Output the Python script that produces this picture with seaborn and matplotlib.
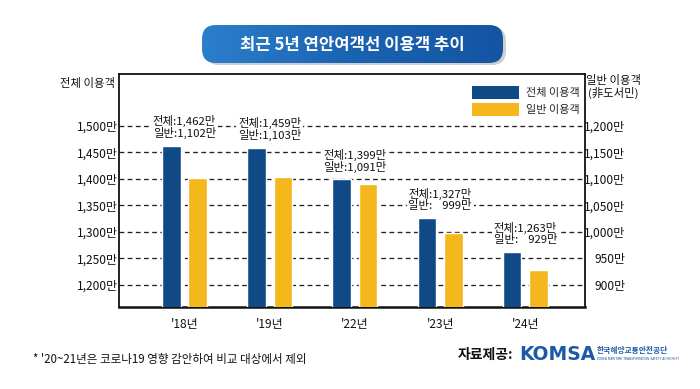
import numpy as np
import pandas as pd
import matplotlib
matplotlib.use('Agg')
import matplotlib.pyplot as plt
import seaborn as sns
from matplotlib.patches import FancyBboxPatch, Patch
import matplotlib.colors as mcolors

# ---------------- data ----------------
years = ["'18년", "'19년", "'22년", "'23년", "'24년"]
total = [1462, 1459, 1399, 1327, 1263]      # 전체 이용객 (만명), left axis
general = [1102, 1103, 1091, 999, 929]      # 일반 이용객 (만명), right axis
series_names = ['전체 이용객', '일반 이용객']
left_ticks = [1200, 1250, 1300, 1350, 1400, 1450, 1500]
right_ticks = [900, 950, 1000, 1050, 1100, 1150, 1200]

title = '최근 5년 연안여객선 이용객 추이'
left_title = '전체 이용객'
right_title = '일반 이용객\n(非도서민)'
footnote = "* '20~21년은 코로나19 영향 감안하여 비교 대상에서 제외"
source_label = '자료제공:'
logo_text = 'KOMSA'
org_name = '한국해양교통안전공단'
org_eng = 'KOREA MARITIME TRANSPORTATION SAFETY AUTHORITY'

BLUE = '#0f4a87'
YELLOW = '#f5b81c'
INK = '#111111'

sns.set_theme(style='white')
plt.rcParams['font.family'] = ['Noto Sans CJK KR', 'DejaVu Sans']

W, H = 700, 389
fig = plt.figure(figsize=(W / 100, H / 100), dpi=100)
fig.patch.set_facecolor('white')

# main axes (pixel-based placement)
x0, x1, ytop, ybot = 119.3, 585.0, 74.0, 307.0
ax = fig.add_axes([x0 / W, 1 - ybot / H, (x1 - x0) / W, (ybot - ytop) / H])
ax2 = ax.twinx()

df = pd.DataFrame({
    'year': years * 2,
    'series': [series_names[0]] * len(years) + [series_names[1]] * len(years),
    'value': total + general,
})
palette = {series_names[0]: BLUE, series_names[1]: YELLOW}

common = dict(x='year', y='value', hue='series', hue_order=series_names,
              palette=palette, width=0.622, gap=0.3, dodge=True,
              saturation=1, legend=False, errorbar=None)
sns.barplot(data=df[df.series == series_names[0]], ax=ax, zorder=3, **common)
sns.barplot(data=df[df.series == series_names[1]], ax=ax2, zorder=3, **common)

ax.set_xlim(-0.765, 4.70)
ax.set_ylim(1158.5, 1598)
ax2.set_ylim(858.5, 1298)

ax.set_yticks(left_ticks)
ax.set_yticklabels([f'{v:,}만' for v in left_ticks])
ax2.set_yticks(right_ticks)
ax2.set_yticklabels([f'{v:,}만' for v in right_ticks])
for lab in ax2.get_yticklabels():
    lab.set_ha('right')

ax.set_xlabel('')
ax.set_ylabel('')
ax2.set_xlabel('')
ax2.set_ylabel('')
ax.set_xticks(range(len(years)))
ax.set_xticklabels(years)

ax.tick_params(axis='y', length=0, pad=1, labelsize=8.6, colors=INK)
ax2.tick_params(axis='y', length=0, pad=29, labelsize=8.6, colors=INK)
ax.tick_params(axis='x', length=0, pad=8, labelsize=8.6, colors=INK)

ax.set_axisbelow(True)
ax.yaxis.grid(True, linestyle=(0, (3.6, 2.6)), color='#222222', linewidth=0.95)
ax.xaxis.grid(False)
for sp in ax.spines.values():
    sp.set_visible(True)
    sp.set_color(INK)
    sp.set_linewidth(1.3)
ax.spines['bottom'].set_linewidth(1.8)
for sp in ax2.spines.values():
    sp.set_visible(False)

# value annotations
for i, (t, g) in enumerate(zip(total, general)):
    gtxt = f'{g:,}' if g >= 1000 else '    ' + f'{g:,}'
    ax.annotate(f'전체:{t:,}만\n일반:{gtxt}만', xy=(i, t), xytext=(0, 5),
                textcoords='offset points', ha='center', va='bottom',
                fontsize=8.2, linespacing=1.0, multialignment='right',
                color=INK, zorder=6,
                bbox=dict(boxstyle='square,pad=0.15', fc='white', ec='none'))

# legend
handles = [Patch(facecolor=BLUE, edgecolor='none'), Patch(facecolor=YELLOW, edgecolor='none')]
leg = ax2.legend(handles, series_names, loc='upper right', bbox_to_anchor=(0.998, 0.965),
                 frameon=True, fontsize=8, handlelength=4.2, handleheight=1.45,
                 labelspacing=0.3, handletextpad=0.7, borderpad=0.35, borderaxespad=0)
leg.get_frame().set_facecolor('white')
leg.get_frame().set_edgecolor('none')
leg.get_frame().set_alpha(1)
leg.set_zorder(10)

# ---------------- overlay (pixel coords) ----------------
ov = fig.add_axes([0, 0, 1, 1])
ov.set_xlim(0, W)
ov.set_ylim(H, 0)
ov.axis('off')
ov.patch.set_visible(False)

# title pill with shadow and gradient
px0, py0, pw, ph = 202, 25, 301, 38
shadow = FancyBboxPatch((px0 + 3, py0 + 2), pw, ph, boxstyle='round,pad=0,rounding_size=14',
                        fc='#cfcfcf', ec='none', zorder=1)
ov.add_patch(shadow)
pill = FancyBboxPatch((px0, py0), pw, ph, boxstyle='round,pad=0,rounding_size=14',
                      fc='none', ec='none', zorder=2)
ov.add_patch(pill)
cmap = mcolors.LinearSegmentedColormap.from_list('g', ['#2c7fcb', '#1a63b2', '#1455a2'])
grad = np.linspace(0, 1, 256).reshape(1, -1)
im = ov.imshow(grad, cmap=cmap, extent=(px0, px0 + pw, py0 + ph, py0), aspect='auto', zorder=2)
im.set_clip_path(pill)
ov.set_xlim(0, W)
ov.set_ylim(H, 0)
ov.text(px0 + pw / 2, py0 + ph / 2 + 1, title, color='white', fontsize=12,
        fontweight='bold', ha='center', va='center', zorder=3)

# axis titles
ov.text(87, 83, left_title, fontsize=8.2, ha='center', va='center', color=INK)
ov.text(613, 87, right_title, fontsize=8.2, ha='center', va='center', color=INK,
        linespacing=1.0)

# footnote
ov.text(33, 360, footnote, fontsize=8.3, ha='left', va='center', color=INK)

# source
ov.text(458, 355, source_label, fontsize=10, ha='left', va='center', color=INK, fontweight='bold')
ov.text(519, 355, logo_text, fontsize=13.5, ha='left', va='center', color='#1c5aa6',
        fontweight='bold', family=['DejaVu Sans'])
ov.text(597, 351, org_name, fontsize=5.6, ha='left', va='center', color='#1c5aa6', fontweight='bold')
ov.text(597, 359, org_eng, fontsize=2.2, ha='left', va='center', color='#1c5aa6',
        family=['DejaVu Sans'])

fig.savefig('out.png', dpi=100, facecolor='white')
